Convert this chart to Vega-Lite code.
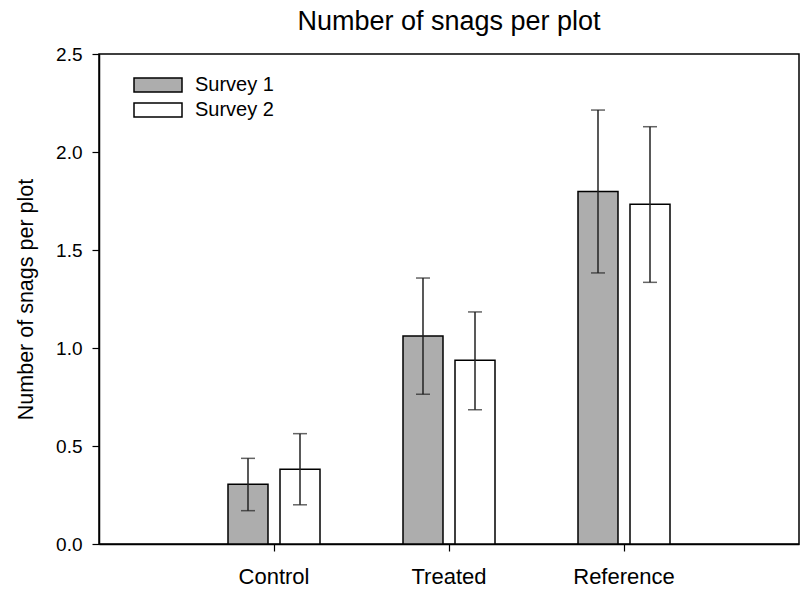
{
  "$schema": "https://vega.github.io/schema/vega-lite/v6.json",
  "width": 700,
  "height": 490,
  "autosize": {"type": "none"},
  "padding": {"left": 99, "top": 54, "right": 2, "bottom": 46},
  "background": "white",
  "title": {
    "text": "Number of snags per plot",
    "fontSize": 27,
    "font": "Liberation Sans",
    "fontWeight": "normal",
    "color": "black",
    "anchor": "middle",
    "offset": 9
  },
  "config": {
    "font": "Liberation Sans",
    "view": {"stroke": "black", "strokeWidth": 1.5},
    "axis": {
      "domainColor": "black",
      "domainWidth": 1.5,
      "tickColor": "black",
      "tickWidth": 1.2,
      "tickSize": 7,
      "labelColor": "black",
      "titleColor": "black",
      "labelFont": "Liberation Sans",
      "titleFont": "Liberation Sans",
      "titleFontWeight": "normal",
      "grid": false
    }
  },
  "data": {
    "values": [
      {"site": "Control", "survey": "Survey 1", "mean": 0.305, "lo": 0.170, "hi": 0.437},
      {"site": "Control", "survey": "Survey 2", "mean": 0.381, "lo": 0.200, "hi": 0.563},
      {"site": "Treated", "survey": "Survey 1", "mean": 1.061, "lo": 0.764, "hi": 1.357},
      {"site": "Treated", "survey": "Survey 2", "mean": 0.937, "lo": 0.685, "hi": 1.184},
      {"site": "Reference", "survey": "Survey 1", "mean": 1.798, "lo": 1.383, "hi": 2.214},
      {"site": "Reference", "survey": "Survey 2", "mean": 1.733, "lo": 1.335, "hi": 2.129}
    ]
  },
  "encoding": {
    "x": {
      "field": "site",
      "type": "nominal",
      "sort": ["Control", "Treated", "Reference"],
      "scale": {"paddingInner": 0, "paddingOuter": 0.5},
      "axis": {
        "title": null,
        "labelAngle": 0,
        "labelFontSize": 22,
        "labelPadding": 15
      }
    },
    "xOffset": {
      "field": "survey",
      "type": "nominal",
      "sort": ["Survey 1", "Survey 2"],
      "scale": {"paddingInner": 0.2308, "paddingOuter": 0.798}
    }
  },
  "layer": [
    {
      "mark": {"type": "bar", "stroke": "black", "strokeWidth": 1.5},
      "encoding": {
        "y": {
          "field": "mean",
          "type": "quantitative",
          "scale": {"domain": [0, 2.5], "nice": false},
          "axis": {
            "title": "Number of snags per plot",
            "values": [0, 0.5, 1, 1.5, 2, 2.5],
            "format": ".1f",
            "labelFontSize": 19,
            "labelPadding": 10,
            "titleFontSize": 21.5,
            "titlePadding": 18
          }
        },
        "fill": {
          "field": "survey",
          "type": "nominal",
          "scale": {"domain": ["Survey 1", "Survey 2"], "range": ["#adadad", "#ffffff"]},
          "legend": {
            "title": null,
            "orient": "none",
            "legendX": 34,
            "legendY": 18.5,
            "padding": 0,
            "rowPadding": 0,
            "clipHeight": 25,
            "symbolType": "M-1,-0.29L1,-0.29L1,0.29L-1,0.29Z",
            "symbolSize": 2304,
            "symbolStrokeColor": "black",
            "symbolStrokeWidth": 1.5,
            "symbolOpacity": 1,
            "labelFontSize": 20,
            "labelOffset": 12,
            "labelColor": "black",
            "labelFont": "Liberation Sans"
          }
        }
      }
    },
    {
      "mark": {"type": "rule", "color": "#222222", "strokeWidth": 1.5},
      "encoding": {
        "y": {"field": "lo", "type": "quantitative"},
        "y2": {"field": "hi"}
      }
    },
    {
      "mark": {"type": "tick", "orient": "horizontal", "color": "#222222", "size": 14, "thickness": 1.5},
      "encoding": {
        "y": {"field": "lo", "type": "quantitative"}
      }
    },
    {
      "mark": {"type": "tick", "orient": "horizontal", "color": "#222222", "size": 14, "thickness": 1.5},
      "encoding": {
        "y": {"field": "hi", "type": "quantitative"}
      }
    }
  ]
}
